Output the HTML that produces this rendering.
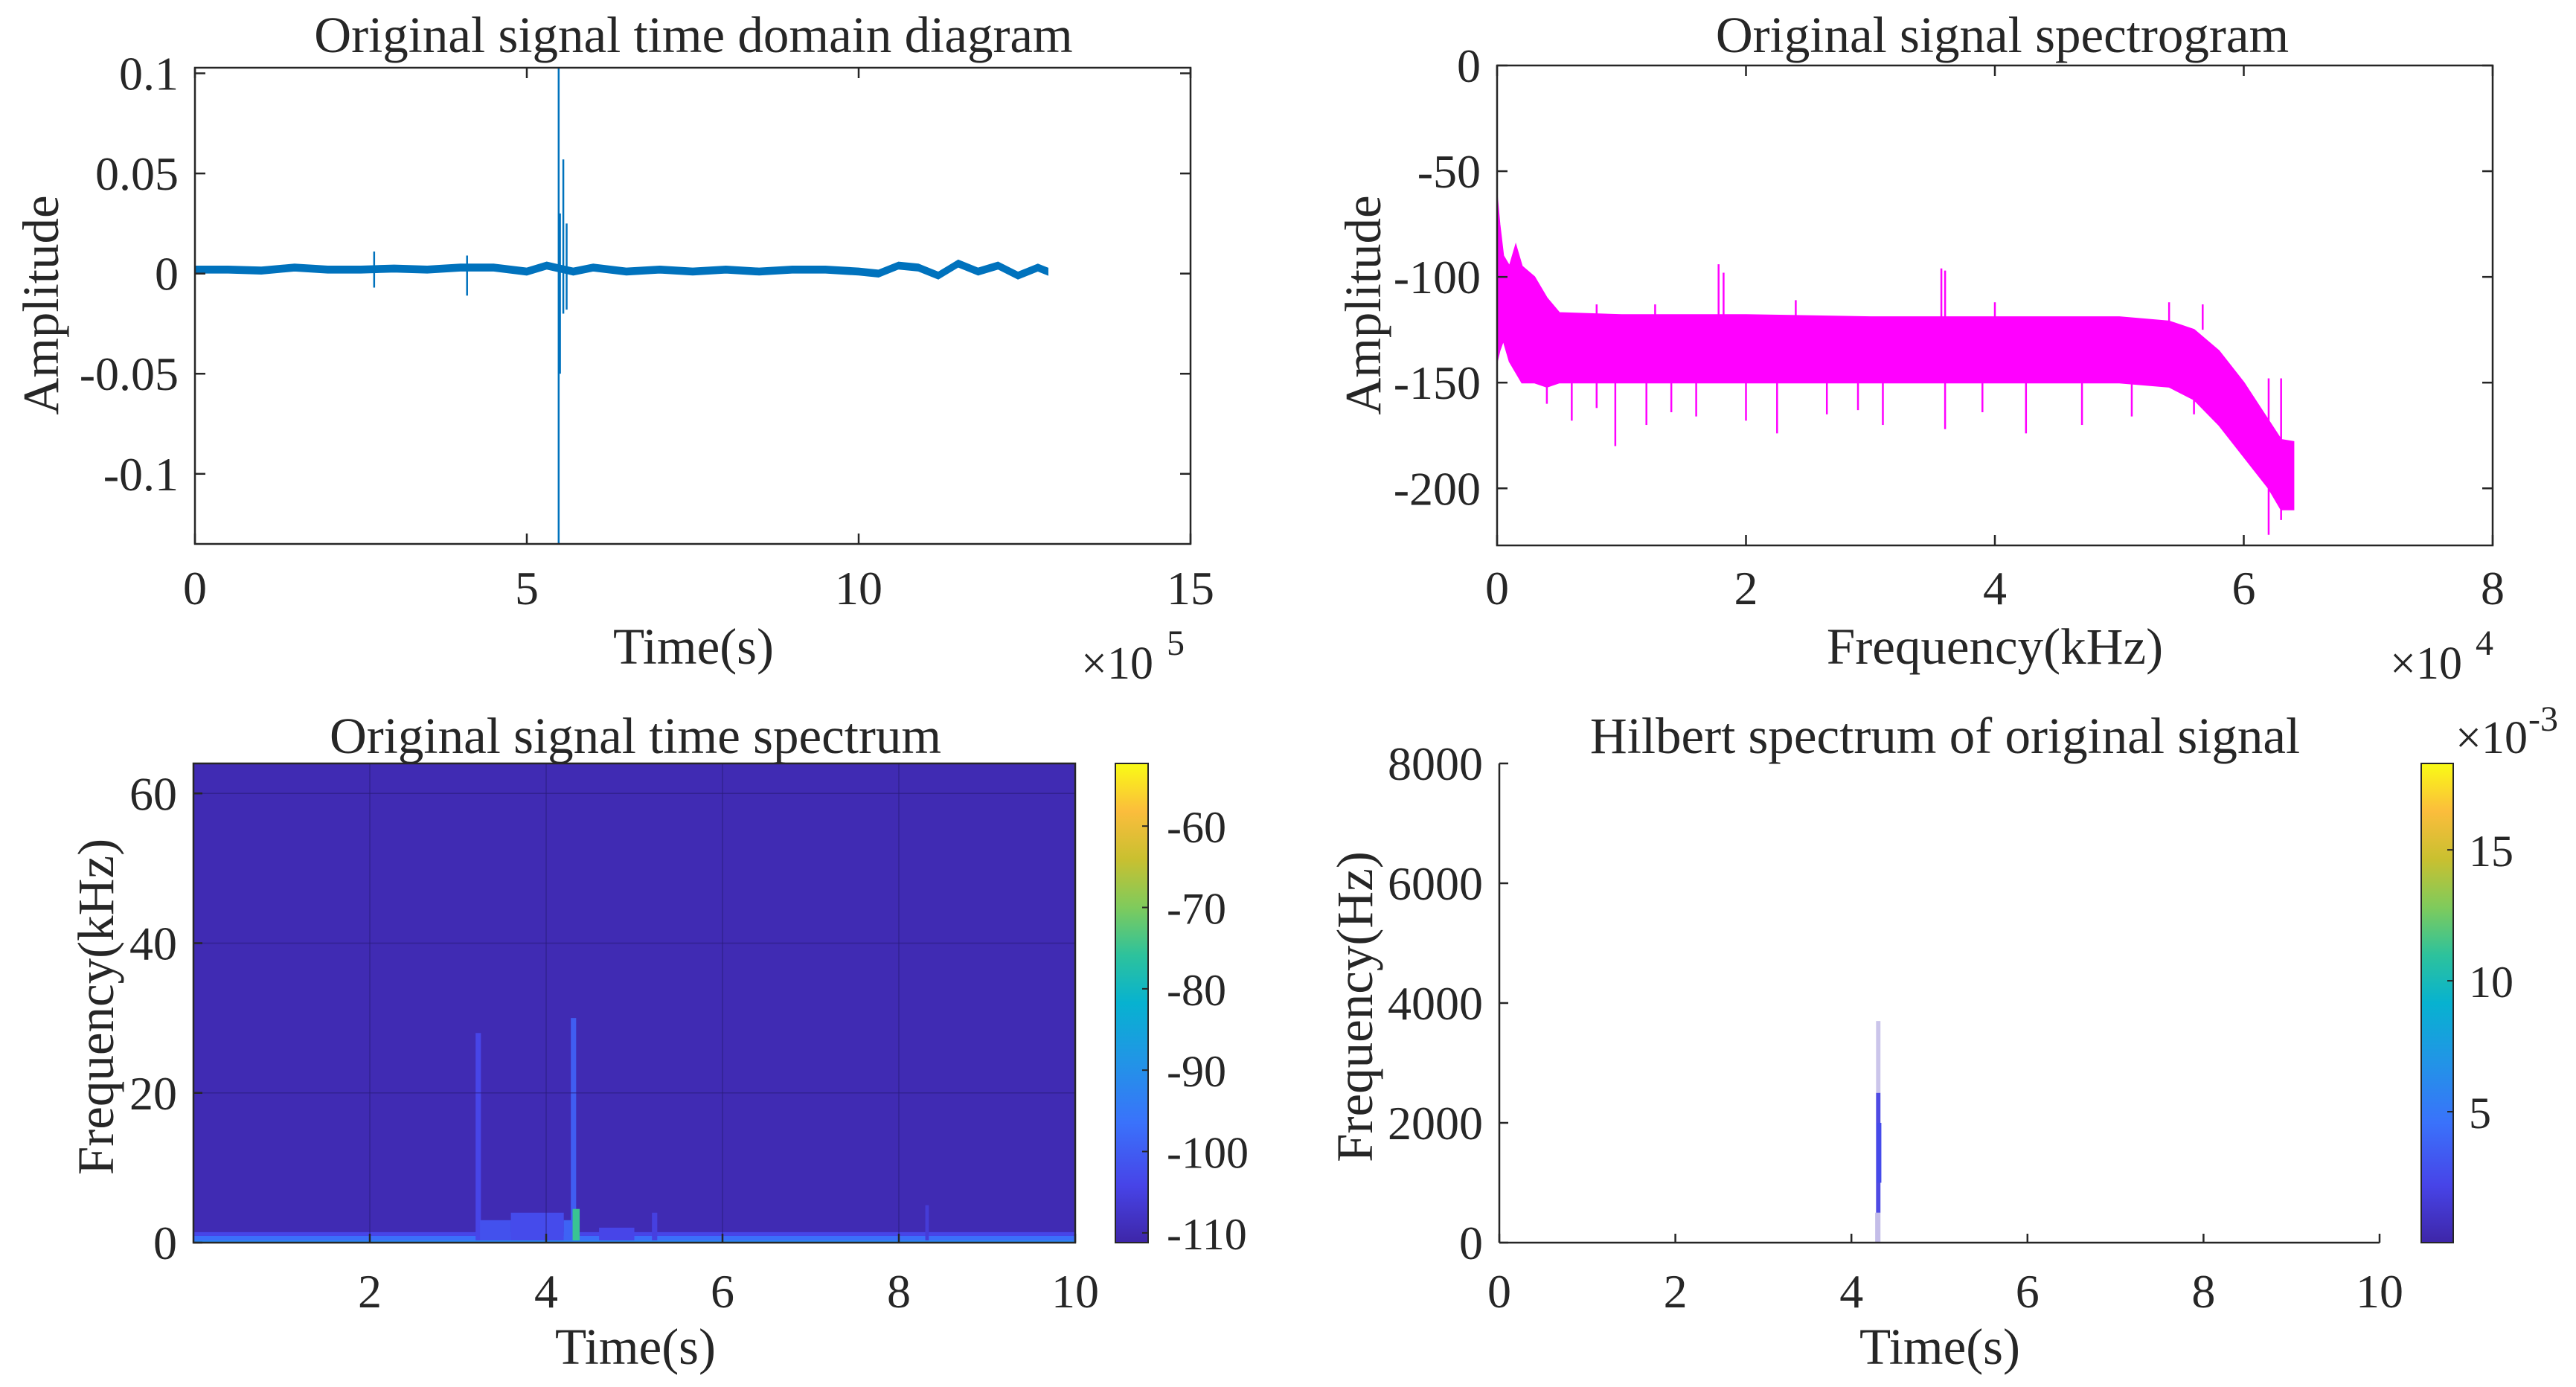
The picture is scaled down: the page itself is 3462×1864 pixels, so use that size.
<!DOCTYPE html>
<html><head><meta charset="utf-8"><style>
html,body{margin:0;padding:0;background:#fff;}
svg{display:block;}
text{font-family:"Liberation Serif",serif;fill:#262626;}
</style></head><body>
<svg id="fig" width="3462" height="1864" viewBox="0 0 3462 1864" xmlns="http://www.w3.org/2000/svg">
<defs>
<linearGradient id="parula" x1="0" y1="1" x2="0" y2="0">
<stop offset="0" stop-color="#3e26a8"/><stop offset="0.12" stop-color="#4744e8"/><stop offset="0.25" stop-color="#3a72fb"/><stop offset="0.38" stop-color="#2195e6"/><stop offset="0.5" stop-color="#07b2d0"/><stop offset="0.6" stop-color="#2dc29c"/><stop offset="0.7" stop-color="#7fcb5c"/><stop offset="0.8" stop-color="#c9c030"/><stop offset="0.9" stop-color="#fbbd3c"/><stop offset="1" stop-color="#f9fb15"/>
</linearGradient>
</defs>
<g id="p1"></g>
<g id="p2"></g>
<g id="p3"></g>
<g id="p4"></g>
</svg>
<script>
// ---- Panel 1 data (time x1e5, amplitude envelope) ----
const sigT = [0,0.5,1,1.5,2,2.5,3,3.5,4,4.5,5,5.3,5.7,6,6.5,7,7.5,8,8.5,9,9.5,10,10.3,10.6,10.9,11.2,11.5,11.8,12.1,12.4,12.7,12.85];
const sigBase = [0.002,0.002,0.0015,0.003,0.002,0.002,0.0025,0.002,0.003,0.003,0.001,0.004,0.001,0.003,0.001,0.002,0.001,0.002,0.001,0.002,0.002,0.001,0.0,0.004,0.003,-0.001,0.005,0.001,0.004,-0.001,0.003,0.001];
const sigHalfWidth = 0.0017;
const spikeT = [2.7,4.1,5.48,5.5,5.55,5.6];
const spikeHi = [0.011,0.009,0.1028,0.03,0.057,0.025];
const spikeLo = [-0.007,-0.011,-0.135,-0.05,-0.02,-0.018];
const p1XTicks = [0,5,10,15];
const p1YTicks = [0.1,0.05,0,-0.05,-0.1];
const p1YLabels = ["0.1","0.05","0","-0.05","-0.1"];
// ---- Panel 2 data (freq x1e4, amplitude dB) ----
const specF = [0,0.02,0.05,0.1,0.15,0.2,0.3,0.4,0.5,1,2,3,4,5,5.4,5.6,5.8,6.0,6.2,6.3,6.4];
const specUpper = [-62,-75,-90,-95,-85,-95,-100,-110,-117,-118,-118,-119,-119,-119,-121,-125,-135,-150,-168,-177,-178];
const specLower = [-140,-135,-130,-140,-145,-150,-150,-152,-150,-150,-150,-150,-150,-150,-152,-158,-170,-185,-200,-210,-210];
const downF = [0.4,0.6,0.8,0.95,1.2,1.4,1.6,2.0,2.25,2.65,2.9,3.1,3.6,3.9,4.25,4.7,5.1,5.6,6.2,6.3];
const downV = [-160,-168,-162,-180,-170,-164,-166,-168,-174,-165,-163,-170,-172,-164,-174,-170,-166,-165,-222,-215];
const upF = [0.8,1.27,1.78,1.82,2.4,3.57,3.6,4.0,5.4,5.67];
const upV = [-113,-113,-94,-98,-111,-96,-97,-112,-112,-113];
const p2XTicks = [0,2,4,6,8];
const p2YTicks = [0,-50,-100,-150,-200];
// ---- Panel 3 data (time s, freq kHz, dB) ----
const cellT0 = [0,0,3.2,4.28,3.25,3.6,4.2,4.3,4.6,5.2,8.3,0];
const cellT1 = [10,10,3.26,4.34,3.6,4.2,4.3,4.38,5.0,5.26,8.34,10];
const cellF0 = [0,0.9,0,0,0,0,0,0,0,0,0,0];
const cellF1 = [0.9,1.4,28,30,3,4,3,4.5,2,4,5,0.3];
const cellV = [-97,-104,-104,-100,-102,-103,-99,-75,-104,-105,-106,-92];
const p3XTicks = [2,4,6,8,10];
const p3YTicks = [0,20,40,60];
const cb3Ticks = [-60,-70,-80,-90,-100,-110];
// ---- Panel 4 data (time s, freq Hz, value x1e-3) ----
const hT0 = [4.27,4.28,4.28,4.29];
const hT1 = [4.33,4.33,4.33,4.34];
const hF0 = [0,500,2500,1000];
const hF1 = [500,2500,3700,2000];
const hV = [0.4,2.0,0.3,2.5];
const p4XTicks = [0,2,4,6,8,10];
const p4YTicks = [0,2000,4000,6000,8000];
const cb4Ticks = [5,10,15];

const NS = "http://www.w3.org/2000/svg";
function mk(parent, tag, attrs, txt){
  const e = document.createElementNS(NS, tag);
  for (const k in attrs) e.setAttribute(k, attrs[k]);
  if (txt !== undefined) e.textContent = txt;
  parent.appendChild(e); return e;
}
function lin(d0,d1,r0,r1){return v=>r0+(v-d0)*(r1-r0)/(d1-d0);}
const parStops=[[0,[62,38,168]],[0.12,[71,68,232]],[0.25,[58,114,251]],[0.38,[33,149,230]],[0.5,[7,178,208]],[0.6,[45,194,156]],[0.7,[127,203,92]],[0.8,[201,192,48]],[0.9,[251,189,60]],[1,[249,251,21]]];
function parula(t){t=Math.max(0,Math.min(1,t));for(let i=1;i<parStops.length;i++){if(t<=parStops[i][0]){const a=parStops[i-1],b=parStops[i];const f=(t-a[0])/(b[0]-a[0]);const c=a[1].map((v,j)=>Math.round(v+(b[1][j]-v)*f));return `rgb(${c[0]},${c[1]},${c[2]})`;}}return "rgb(249,251,21)";}
const AX="#262626";
const TF=69;

// ========== Panel 1 ==========
(function(){
  const g=document.getElementById('p1');
  const L=262,R=1600,T=91,B=731;
  const x=lin(0,15,L,R), y=lin(-0.135,0.1028,B,T);
  const pts=[];
  for(let i=0;i<sigT.length;i++) pts.push(x(sigT[i])+","+y(sigBase[i]+sigHalfWidth));
  for(let i=sigT.length-1;i>=0;i--) pts.push(x(sigT[i])+","+y(sigBase[i]-sigHalfWidth));
  const band=mk(g,'polygon',{points:pts.join(' '),fill:'#0072bd',stroke:'#0072bd','stroke-width':1.5});
  
  
  for(let i=0;i<spikeT.length;i++){
    const s=mk(g,'line',{x1:x(spikeT[i]),x2:x(spikeT[i]),y1:y(spikeHi[i]),y2:y(spikeLo[i]),stroke:'#0072bd','stroke-width':2.5});
    
    
  }
  const box=mk(g,'rect',{x:L,y:T,width:R-L,height:B-T,fill:'none',stroke:AX,'stroke-width':2.5});
  
  
  p1XTicks.forEach(v=>{
    mk(g,'line',{x1:x(v),x2:x(v),y1:B,y2:B-14,stroke:AX,'stroke-width':2.5});
    mk(g,'line',{x1:x(v),x2:x(v),y1:T,y2:T+14,stroke:AX,'stroke-width':2.5});
    const t=mk(g,'text',{x:x(v),y:812,'font-size':64,'text-anchor':'middle'},String(v));
    
    
  });
  p1YTicks.forEach((v,i)=>{
    mk(g,'line',{x1:L,x2:L+14,y1:y(v),y2:y(v),stroke:AX,'stroke-width':2.5});
    mk(g,'line',{x1:R,x2:R-14,y1:y(v),y2:y(v),stroke:AX,'stroke-width':2.5});
    const t=mk(g,'text',{x:L-22,y:y(v)+22,'font-size':64,'text-anchor':'end'},p1YLabels[i]);
    
    
  });
  const ti=mk(g,'text',{x:932,y:70,'font-size':TF,'text-anchor':'middle'},'Original signal time domain diagram');
  
  
  const xl=mk(g,'text',{x:932,y:892,'font-size':TF,'text-anchor':'middle'},'Time(s)');
  
  
  const yl=mk(g,'text',{x:0,y:0,'font-size':TF,'text-anchor':'middle',transform:'translate(78,410) rotate(-90)'},'Amplitude');
  
  
  const ex=mk(g,'text',{x:1453,y:912,'font-size':62},'×10');
  
  
  mk(g,'text',{x:1568,y:880,'font-size':48},'5');
})();

// ========== Panel 2 ==========
(function(){
  const g=document.getElementById('p2');
  const L=2012,R=3350,T=88,B=733;
  const x=lin(0,8,L,R), y=lin(-227,0,B,T);
  const pts=[];
  for(let i=0;i<specF.length;i++) pts.push(x(specF[i])+","+y(specUpper[i]));
  for(let i=specF.length-1;i>=0;i--) pts.push(x(specF[i])+","+y(specLower[i]));
  const band=mk(g,'polygon',{points:pts.join(' '),fill:'#ff00ff',stroke:'#ff00ff','stroke-width':2});
  
  
  for(let i=0;i<downF.length;i++){
    const s=mk(g,'line',{x1:x(downF[i]),x2:x(downF[i]),y1:y(-148),y2:y(downV[i]),stroke:'#ff00ff','stroke-width':2.5});
    
    
  }
  for(let i=0;i<upF.length;i++){
    const s=mk(g,'line',{x1:x(upF[i]),x2:x(upF[i]),y1:y(-125),y2:y(upV[i]),stroke:'#ff00ff','stroke-width':2.5});
    
    
  }
  const box=mk(g,'rect',{x:L,y:T,width:R-L,height:B-T,fill:'none',stroke:AX,'stroke-width':2.5});
  
  
  p2XTicks.forEach(v=>{
    mk(g,'line',{x1:x(v),x2:x(v),y1:B,y2:B-14,stroke:AX,'stroke-width':2.5});
    mk(g,'line',{x1:x(v),x2:x(v),y1:T,y2:T+14,stroke:AX,'stroke-width':2.5});
    const t=mk(g,'text',{x:x(v),y:812,'font-size':64,'text-anchor':'middle'},String(v));
    
    
  });
  p2YTicks.forEach(v=>{
    mk(g,'line',{x1:L,x2:L+14,y1:y(v),y2:y(v),stroke:AX,'stroke-width':2.5});
    mk(g,'line',{x1:R,x2:R-14,y1:y(v),y2:y(v),stroke:AX,'stroke-width':2.5});
    const t=mk(g,'text',{x:L-22,y:y(v)+22,'font-size':64,'text-anchor':'end'},String(v));
    
    
  });
  const ti=mk(g,'text',{x:2691,y:70,'font-size':TF,'text-anchor':'middle'},'Original signal spectrogram');
  
  
  const xl=mk(g,'text',{x:2681,y:892,'font-size':TF,'text-anchor':'middle'},'Frequency(kHz)');
  
  
  const yl=mk(g,'text',{x:0,y:0,'font-size':TF,'text-anchor':'middle',transform:'translate(1855,410) rotate(-90)'},'Amplitude');
  
  
  const ex=mk(g,'text',{x:3212,y:912,'font-size':62},'×10');
  
  
  mk(g,'text',{x:3327,y:880,'font-size':48},'4');
})();

// ========== Panel 3 ==========
(function(){
  const g=document.getElementById('p3');
  const L=260,R=1445,T=1026,B=1670;
  const x=lin(0,10,L,R), y=lin(0,64,B,T);
  const cmin=-111.2,cmax=-52.3;
  const bg=mk(g,'rect',{x:L,y:T,width:R-L,height:B-T,fill:parula(0.02)});
  
  
  for(let i=0;i<cellV.length;i++){
    const c=mk(g,'rect',{x:x(cellT0[i]),y:y(cellF1[i]),width:x(cellT1[i])-x(cellT0[i]),height:y(cellF0[i])-y(cellF1[i]),fill:parula((cellV[i]-cmin)/(cmax-cmin))});
    
    
  }
  p3XTicks.forEach(v=>{
    mk(g,'line',{x1:x(v),x2:x(v),y1:T,y2:B,stroke:'#2a1c7a','stroke-width':1.5,'stroke-opacity':0.6});
  });
  p3YTicks.forEach(v=>{
    mk(g,'line',{x1:L,x2:R,y1:y(v),y2:y(v),stroke:'#2a1c7a','stroke-width':1.5,'stroke-opacity':0.6});
  });
  const box=mk(g,'rect',{x:L,y:T,width:R-L,height:B-T,fill:'none',stroke:AX,'stroke-width':2.5});
  
  
  p3XTicks.forEach(v=>{
    mk(g,'line',{x1:x(v),x2:x(v),y1:B,y2:B-12,stroke:AX,'stroke-width':2.5});
    const t=mk(g,'text',{x:x(v),y:1757,'font-size':64,'text-anchor':'middle'},String(v));
    
    
  });
  p3YTicks.forEach(v=>{
    mk(g,'line',{x1:L,x2:L+12,y1:y(v),y2:y(v),stroke:AX,'stroke-width':2.5});
    const t=mk(g,'text',{x:L-22,y:y(v)+22,'font-size':64,'text-anchor':'end'},String(v));
    
    
  });
  const cb=mk(g,'rect',{x:1499,y:T,width:44,height:B-T,fill:'url(#parula)',stroke:AX,'stroke-width':2});
  
  
  const cy=lin(cmin,cmax,B,T);
  cb3Ticks.forEach(v=>{
    mk(g,'line',{x1:1543,x2:1535,y1:cy(v),y2:cy(v),stroke:AX,'stroke-width':2});
    const t=mk(g,'text',{x:1568,y:cy(v)+22,'font-size':60},String(v));
    
    
  });
  const ti=mk(g,'text',{x:854,y:1012,'font-size':TF,'text-anchor':'middle'},'Original signal time spectrum');
  
  
  const xl=mk(g,'text',{x:854,y:1833,'font-size':TF,'text-anchor':'middle'},'Time(s)');
  
  
  const yl=mk(g,'text',{x:0,y:0,'font-size':TF,'text-anchor':'middle',transform:'translate(152,1353) rotate(-90)'},'Frequency(kHz)');
  
  
})();

// ========== Panel 4 ==========
(function(){
  const g=document.getElementById('p4');
  const L=2015,R=3198,T=1026,B=1670;
  const x=lin(0,10,L,R), y=lin(0,8000,B,T);
  const cmin=0,cmax=18.3;
  for(let i=0;i<hV.length;i++){
    const c=mk(g,'rect',{x:x(hT0[i]),y:y(hF1[i]),width:x(hT1[i])-x(hT0[i]),height:y(hF0[i])-y(hF1[i]),fill:parula((hV[i]-cmin)/(cmax-cmin)),'fill-opacity':Math.min(1,0.15+hV[i]/2.5)});
    
    
  }
  const ax1=mk(g,'line',{x1:L,x2:R,y1:B,y2:B,stroke:AX,'stroke-width':2.5});
  
  
  const ax2=mk(g,'line',{x1:L,x2:L,y1:T,y2:B,stroke:AX,'stroke-width':2.5});
  
  
  p4XTicks.forEach(v=>{
    mk(g,'line',{x1:x(v),x2:x(v),y1:B,y2:B-12,stroke:AX,'stroke-width':2.5});
    const t=mk(g,'text',{x:x(v),y:1757,'font-size':64,'text-anchor':'middle'},String(v));
    
    
  });
  p4YTicks.forEach(v=>{
    mk(g,'line',{x1:L,x2:L+12,y1:y(v),y2:y(v),stroke:AX,'stroke-width':2.5});
    const t=mk(g,'text',{x:L-22,y:y(v)+22,'font-size':64,'text-anchor':'end'},String(v));
    
    
  });
  const cb=mk(g,'rect',{x:3254,y:T,width:43,height:B-T,fill:'url(#parula)',stroke:AX,'stroke-width':2});
  
  
  const cy=lin(cmin,cmax,B,T);
  cb4Ticks.forEach(v=>{
    mk(g,'line',{x1:3297,x2:3289,y1:cy(v),y2:cy(v),stroke:AX,'stroke-width':2});
    const t=mk(g,'text',{x:3318,y:cy(v)+22,'font-size':60},String(v));
    
    
  });
  const ex=mk(g,'text',{x:3300,y:1012,'font-size':62},'×10');
  
  
  mk(g,'text',{x:3398,y:982,'font-size':48},'-3');
  const ti=mk(g,'text',{x:2614,y:1012,'font-size':TF,'text-anchor':'middle'},'Hilbert spectrum of original signal');
  
  
  const xl=mk(g,'text',{x:2607,y:1833,'font-size':TF,'text-anchor':'middle'},'Time(s)');
  
  
  const yl=mk(g,'text',{x:0,y:0,'font-size':TF,'text-anchor':'middle',transform:'translate(1844,1353) rotate(-90)'},'Frequency(Hz)');
  
  
})();
</script>
</body></html>
